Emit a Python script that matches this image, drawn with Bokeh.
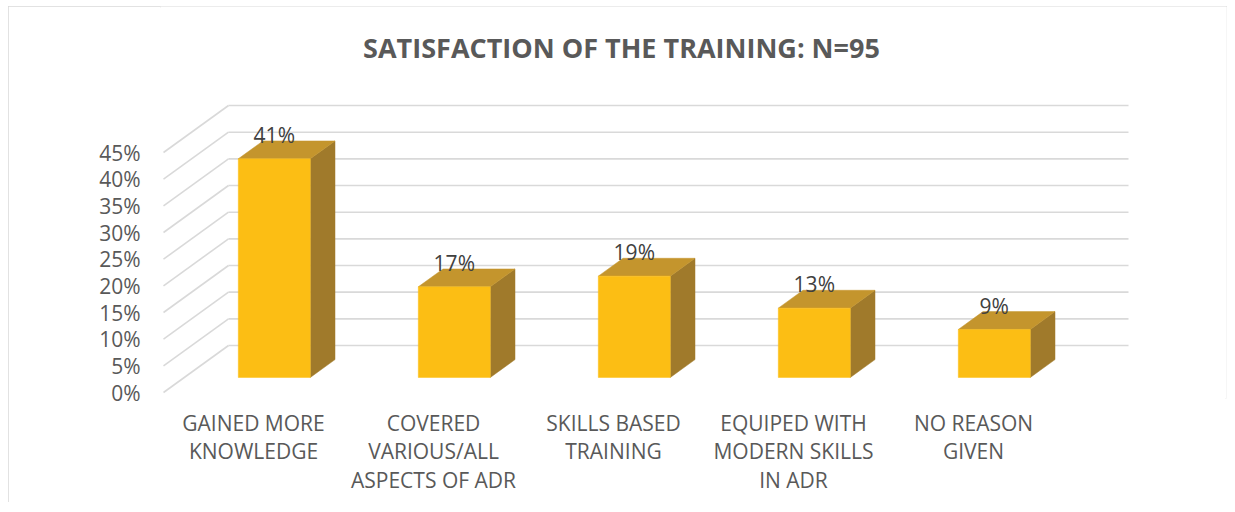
from bokeh.plotting import figure
from bokeh.models import Range1d, LinearAxis, FixedTicker, PrintfTickFormatter, Label
from bokeh.embed import file_html
from bokeh.resources import INLINE
from bokeh.core.properties import value

# ---------------- data ----------------
categories = [
    "GAINED MORE\nKNOWLEDGE",
    "COVERED\nVARIOUS/ALL\nASPECTS OF ADR",
    "SKILLS BASED\nTRAINING",
    "EQUIPED WITH\nMODERN SKILLS\nIN ADR",
    "NO REASON\nGIVEN",
]
values = [41, 17, 19, 13, 9]
y_ticks = [0, 5, 10, 15, 20, 25, 30, 35, 40, 45]
title_text = "SATISFACTION OF THE TRAINING: N=95"

# ---------------- geometry (pseudo-3D projection) ----------------
PX_PER_CAT = 180.0      # pixels per category unit
PX_PER_PCT = 5.333      # pixels per percentage point
DX = -65.0 / PX_PER_CAT  # depth vector back wall -> front plane (x)
DY = -47.0 / PX_PER_PCT  # depth vector back wall -> front plane (y)
F = 0.68   # depth of bar front faces
B = 0.30   # depth of bar back faces
W = 0.40   # bar width (category units)
LABEL_LIFT = 6.0 / PX_PER_PCT  # data labels sit just above the bar top

WIDTH, HEIGHT = 1219, 496
PAGE_OFF_X, PAGE_OFF_Y = 8, 6
MB_LEFT, MB_RIGHT, MB_TOP, MB_BOTTOM = 152, 1, 0, 104
frame_w = WIDTH - MB_LEFT - MB_RIGHT
frame_h = HEIGHT - MB_TOP - MB_BOTTOM

# page-pixel anchors of the back wall origin (x=0, 0%)
ORIGIN_X, ORIGIN_Y = 228.0, 345.0
x_start = (PAGE_OFF_X + MB_LEFT - ORIGIN_X) / PX_PER_CAT
x_end = x_start + frame_w / PX_PER_CAT
y_start = (ORIGIN_Y - (PAGE_OFF_Y + MB_TOP + frame_h)) / PX_PER_PCT
y_end = y_start + frame_h / PX_PER_PCT

p = figure(
    width=WIDTH, height=HEIGHT,
    x_range=Range1d(x_start, x_end), y_range=Range1d(y_start, y_end),
    output_backend="svg", toolbar_location=None,
    x_axis_location=None, y_axis_location=None,
    min_border_left=MB_LEFT, min_border_right=MB_RIGHT,
    min_border_top=MB_TOP, min_border_bottom=MB_BOTTOM,
)
p.grid.visible = False
p.outline_line_color = None
p.background_fill_color = "white"
p.border_fill_color = "white"
p.styles = {"outline": "2px solid #d9d9d9", "outline-offset": "-2px",
            "margin-left": "8px", "margin-top": "6px"}

# ---------------- gridlines: back wall + left side wall ----------------
n = len(categories)
grid_xs, grid_ys = [], []
for t in y_ticks:
    grid_xs.append([0, n]); grid_ys.append([t, t])
    grid_xs.append([0, DX]); grid_ys.append([t, t + DY])
p.multi_line(grid_xs, grid_ys, line_color="#d9d9d9", line_width=1.6)

# ---------------- 3D bars ----------------
front_left, front_right, front_top, front_bottom = [], [], [], []
top_xs, top_ys, side_xs, side_ys = [], [], [], []
lab_x, lab_y, lab_t = [], [], []
for i, v in enumerate(values):
    cx = i + 0.5
    xf = cx + F * DX
    xb = cx + B * DX
    yf0, yb0 = F * DY, B * DY
    front_left.append(xf - W / 2); front_right.append(xf + W / 2)
    front_bottom.append(yf0); front_top.append(v + yf0)
    top_xs.append([xf - W / 2, xf + W / 2, xb + W / 2, xb - W / 2])
    top_ys.append([v + yf0, v + yf0, v + yb0, v + yb0])
    side_xs.append([xf + W / 2, xf + W / 2, xb + W / 2, xb + W / 2])
    side_ys.append([yf0, v + yf0, v + yb0, yb0])
    lab_x.append(xf); lab_y.append(v + yb0 + LABEL_LIFT); lab_t.append(f"{v}%")

p.patches(side_xs, side_ys, fill_color="#A07A2B", line_color="#A07A2B", line_width=0.5)
p.patches(top_xs, top_ys, fill_color="#C4952D", line_color="#C4952D", line_width=0.5)
p.quad(left=front_left, right=front_right, top=front_top, bottom=front_bottom,
       fill_color="#FCBE14", line_color="#FCBE14", line_width=0.5)

p.text(x=lab_x, y=lab_y, text=lab_t, text_align="center", text_baseline="alphabetic",
       text_font=value("Open Sans"), text_font_size="21px", text_color="#404040")

# ---------------- axes on the front plane ----------------
p.extra_y_ranges = {"front": Range1d(y_start - DY, y_end - DY)}
p.extra_x_ranges = {"front": Range1d(x_start - DX, x_end - DX)}

yaxis = LinearAxis(
    y_range_name="front", ticker=FixedTicker(ticks=y_ticks),
    formatter=PrintfTickFormatter(format="%d%%"),
    axis_line_color=None, major_tick_line_color=None, minor_tick_line_color=None,
    major_label_text_font="Open Sans", major_label_text_font_size="21px",
    major_label_text_color="#595959", major_label_standoff=14,
)
p.add_layout(yaxis, "left")

x_ticks = [i + 0.5 for i in range(n)]
xaxis = LinearAxis(
    x_range_name="front", ticker=FixedTicker(ticks=x_ticks),
    major_label_overrides={t: c for t, c in zip(x_ticks, categories)},
    axis_line_color=None, major_tick_line_color=None, minor_tick_line_color=None,
    major_label_text_font="Open Sans", major_label_text_font_size="21px",
    major_label_text_color="#595959", major_label_standoff=4,
    major_label_text_line_height=1.03,
)
p.add_layout(xaxis, "below")

# ---------------- title ----------------
title = Label(
    x=(621 - ORIGIN_X) / PX_PER_CAT, y=(ORIGIN_Y - 47) / PX_PER_PCT,
    text=title_text, text_align="center", text_baseline="middle",
    text_font="Open Sans", text_font_style="bold", text_font_size="27px",
    text_color="#595959",
)
p.add_layout(title)

open("out.html", "w").write(file_html(p, INLINE))
